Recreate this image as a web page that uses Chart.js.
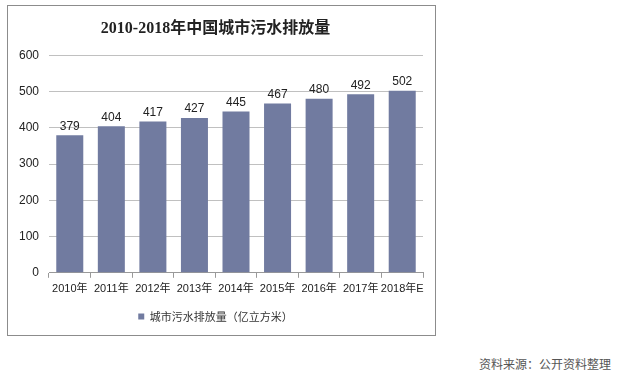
<!DOCTYPE html>
<html>
<head>
<meta charset="utf-8">
<script src="https://cdn.jsdelivr.net/npm/chart.js@4/dist/chart.umd.min.js"></script>
<style>
  body { margin: 0; background: #fff; }
  #box { position: absolute; left: 7px; top: 5px; width: 427px; height: 329px; border: 1px solid #8c8c8c; }
  #src { position: absolute; left: 479px; top: 355px; font: 12px "Noto Sans CJK SC", sans-serif; color: #555; }
</style>
</head>
<body>
<div id="box"><canvas id="chart" width="427" height="329"></canvas></div>
<div id="src">资料来源：公开资料整理</div>
<script>
const years = ['2010年', '2011年', '2012年', '2013年', '2014年', '2015年', '2016年', '2017年', '2018年E'];
const sewage = [379, 404, 417, 427, 445, 467, 480, 492, 502];
const yTicks = [0, 100, 200, 300, 400, 500, 600];

// labels above each bar
const barLabels = {
    id: 'barLabels',
    afterDatasetsDraw(chart) {
        const ctx = chart.ctx;
        ctx.save();
        ctx.font = '12px "Liberation Sans", Arial, sans-serif';
        ctx.fillStyle = '#222';
        ctx.textAlign = 'center';
        ctx.textBaseline = 'bottom';
        chart.getDatasetMeta(0).data.forEach((bar, i) => {
            ctx.fillText(sewage[i], bar.x, bar.y - 3);
        });
        ctx.restore();
    }
};

new Chart(document.getElementById('chart'), {
    type: 'bar',
    data: {
        labels: years,
        datasets: [{
            label: '城市污水排放量（亿立方米）',
            data: sewage,
            backgroundColor: '#717ba0',
            categoryPercentage: 1,
            barPercentage: 0.65
        }]
    },
    options: {
        responsive: false,
        animation: false,
        layout: { padding: { right: 12, bottom: 3 } },
        plugins: {
            title: {
                display: true,
                text: '2010-2018年中国城市污水排放量',
                font: { family: '"Liberation Serif", "Noto Sans CJK SC", serif', size: 16, weight: 'bold' },
                color: '#222',
                padding: { top: 13, bottom: 17 }
            },
            legend: {
                position: 'bottom',
                labels: {
                    boxWidth: 6, boxHeight: 6,
                    font: { family: '"Noto Sans CJK SC", sans-serif', size: 11 },
                    color: '#333'
                }
            },
            tooltip: { enabled: false }
        },
        scales: {
            x: {
                grid: { offset: true, drawOnChartArea: false, drawTicks: true, tickLength: 5, color: '#999' },
                border: { display: true, color: '#999' },
                ticks: { font: { family: '"Liberation Sans", "Noto Sans CJK SC", sans-serif', size: 11 }, color: '#222', maxRotation: 0, autoSkip: false, padding: 5 }
            },
            y: {
                min: 0, max: 600,
                afterBuildTicks: axis => { axis.ticks = yTicks.map(v => ({ value: v })); },
                afterFit: axis => { axis.width = 41; },
                grid: { color: '#c0c0c0', drawTicks: false },
                border: { display: false },
                ticks: { font: { family: '"Liberation Sans", Arial, sans-serif', size: 12 }, color: '#222', padding: 10 }
            }
        }
    },
    plugins: [barLabels]
});
</script>
</body>
</html>
